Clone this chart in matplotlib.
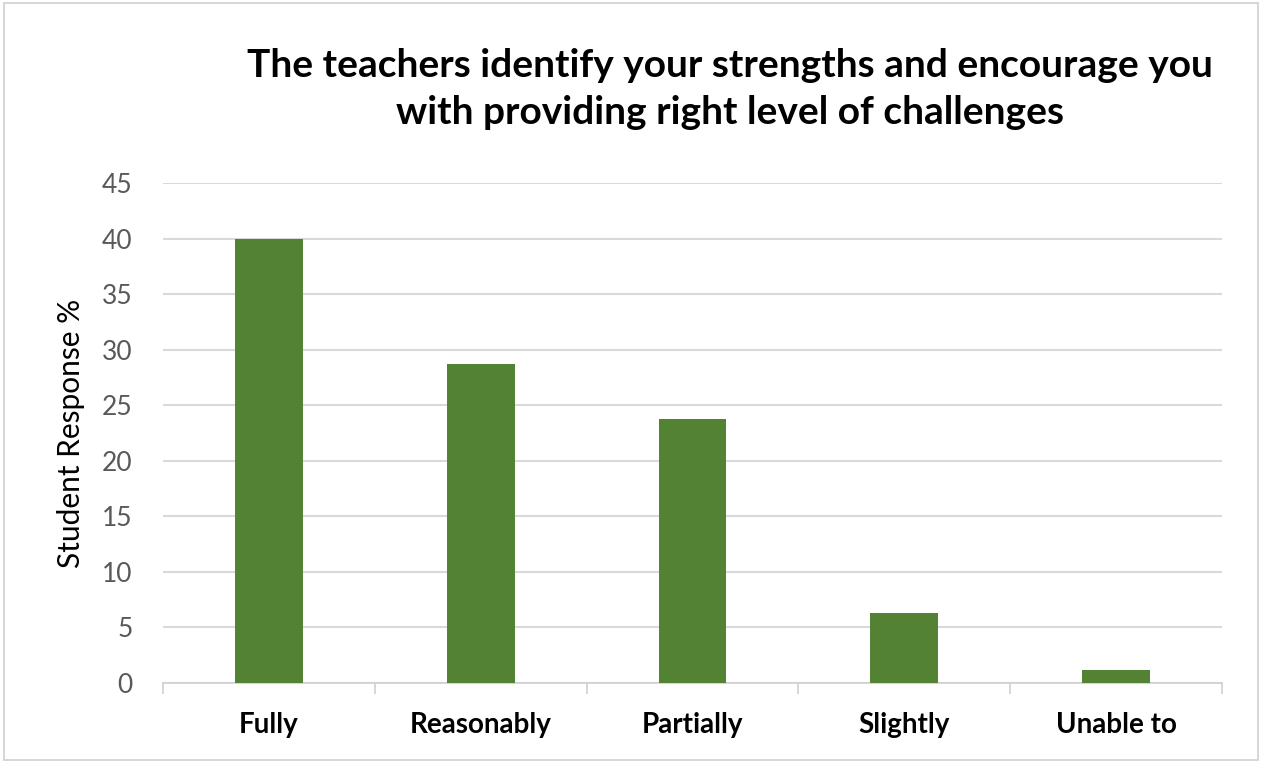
import matplotlib.pyplot as plt
import numpy as np

plt.rcParams['font.family'] = ['Lato', 'DejaVu Sans']

categories = ['Fully', 'Reasonably', 'Partially', 'Slightly', 'Unable to']
values = [40.0, 28.7, 23.8, 6.3, 1.2]
yticks = [0, 5, 10, 15, 20, 25, 30, 35, 40, 45]

fig = plt.figure(figsize=(12.62, 7.63), dpi=100)
ax = fig.add_axes([163 / 1262, 1 - 683 / 763, (1222 - 163) / 1262, 500 / 763])

x = np.arange(len(categories))
ax.bar(x, values, width=0.32, color='#548235', zorder=3)

ax.set_xlim(-0.5, len(categories) - 0.5)
ax.set_ylim(0, 45)
ax.set_yticks(yticks)
ax.set_yticklabels([str(v) for v in yticks], fontsize=19, color='#595959')
ax.set_xticks(x)
ax.set_xticklabels(categories, fontsize=20, fontweight='bold', color='black')
ax.tick_params(axis='y', length=0, pad=22)
ax.tick_params(axis='x', length=0, pad=21)

# category boundary ticks below the axis
ax.set_xticks(np.arange(-0.5, len(categories)), minor=True)
ax.tick_params(axis='x', which='minor', length=8, color='#d0d0d0', width=1.2)

ax.grid(axis='y', color='#d9d9d9', linewidth=1.5, zorder=0)
for s in ['top', 'right', 'left']:
    ax.spines[s].set_visible(False)
ax.spines['bottom'].set_color('#d0d0d0')
ax.spines['bottom'].set_linewidth(1.2)

ax.set_ylabel('Student Response %', fontsize=21.5, labelpad=12)

fig.text(730 / 1262, 1 - 89 / 763,
         'The teachers identify your strengths and encourage you\nwith providing right level of challenges',
         ha='center', va='center', fontsize=28, fontweight='bold', linespacing=1.38)

# outer border
fig.patches.append(plt.Rectangle((0.003, 0.004), 0.994, 0.992, transform=fig.transFigure,
                                 fill=False, edgecolor='#d0d0d0', linewidth=1.2))

fig.savefig('out.png', dpi=100)
